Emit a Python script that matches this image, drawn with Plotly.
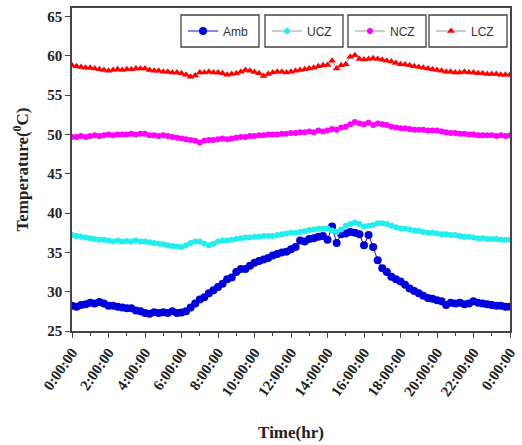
import plotly.graph_objects as go

# time in hours, 15-min resolution (0 .. 24)
hours = [i / 4 for i in range(97)]

amb = [
    28.2, 28.1, 28.3, 28.4,   # 0h
    28.6, 28.5, 28.7, 28.5,   # 1h
    28.2, 28.2, 28.1, 28.0,   # 2h
    27.9, 27.9, 27.6, 27.5,   # 3h
    27.3, 27.2, 27.4, 27.3,   # 4h
    27.4, 27.3, 27.5, 27.3,   # 5h
    27.35, 27.5, 28.0, 28.5,  # 6h
    29.0, 29.3, 29.8, 30.2,   # 7h
    30.6, 31.0, 31.6, 31.8,   # 8h
    32.5, 32.9, 32.9, 33.3,   # 9h
    33.7, 33.9, 34.1, 34.3,   # 10h
    34.6, 34.8, 35.0, 35.1,   # 11h
    35.4, 35.7, 36.5, 36.4,   # 12h
    36.7, 36.8, 37.0, 37.1,   # 13h
    36.6, 38.3, 36.2, 37.3,   # 14h
    37.4, 37.6, 37.5, 37.3,   # 15h
    35.9, 37.2, 35.7, 34.0,   # 16h
    33.0, 32.5, 31.9, 31.6,   # 17h
    31.3, 30.9, 30.4, 30.1,   # 18h
    29.8, 29.5, 29.2, 29.1,   # 19h
    28.9, 28.8, 28.3, 28.6,   # 20h
    28.5, 28.6, 28.4, 28.5,   # 21h
    28.8, 28.6, 28.5, 28.4,   # 22h
    28.3, 28.2, 28.2, 28.1,   # 23h
    28.1,                     # 24h
]

ucz = [
    37.2, 37.1, 37.0, 36.9,
    36.8, 36.7, 36.6, 36.6,
    36.5, 36.4, 36.5, 36.4,
    36.45, 36.4, 36.5, 36.4,
    36.4, 36.3, 36.2, 36.1,
    36.05, 35.9, 35.8, 35.75,
    35.7, 35.9, 36.2, 36.4,
    36.4, 36.1, 35.9, 36.1,
    36.4, 36.5, 36.5, 36.6,
    36.7, 36.8, 36.9, 36.9,
    37.0, 37.0, 37.1, 37.1,
    37.1, 37.2, 37.3, 37.4,
    37.5, 37.5, 37.6, 37.7,
    37.85, 37.9, 38.0, 38.0,
    38.05, 37.8, 37.6, 37.9,
    38.4, 38.6, 38.8, 38.6,
    38.3, 38.4, 38.5, 38.7,
    38.7, 38.6, 38.4, 38.2,
    38.05, 38.0, 37.9, 37.8,
    37.75, 37.6, 37.5, 37.5,
    37.4, 37.3, 37.3, 37.2,
    37.2, 37.1, 37.0, 37.0,
    36.9, 36.8, 36.8, 36.7,
    36.7, 36.7, 36.6, 36.6,
    36.6,
]

ncz = [
    49.7, 49.7, 49.8, 49.7,
    49.8, 49.9, 49.8, 49.9,
    50.0, 49.9, 50.0, 50.0,
    50.0, 50.1, 50.0, 50.1,
    50.1, 49.9, 49.9, 49.8,
    49.9, 49.8, 49.7, 49.6,
    49.5, 49.4, 49.3, 49.2,
    49.0, 49.2, 49.3, 49.3,
    49.4, 49.5, 49.4, 49.5,
    49.6, 49.7, 49.7, 49.8,
    49.8, 49.9, 49.9, 50.0,
    50.0, 50.0, 50.1, 50.1,
    50.2, 50.2, 50.3, 50.3,
    50.4, 50.3, 50.5, 50.4,
    50.5, 50.7, 50.6, 50.9,
    51.0, 51.3, 51.6, 51.4,
    51.3, 51.5, 51.2, 51.4,
    51.3, 51.2, 51.0, 50.9,
    50.8, 50.8, 50.7, 50.6,
    50.6, 50.6, 50.5, 50.5,
    50.5, 50.4, 50.3, 50.2,
    50.2, 50.1, 50.1, 50.0,
    50.0, 49.9, 49.9, 49.9,
    49.9, 49.8, 49.9, 49.8,
    49.9,
]

lcz = [
    58.8, 58.7, 58.6, 58.5,
    58.5, 58.4, 58.3, 58.2,
    58.1, 58.2, 58.3, 58.2,
    58.3, 58.3, 58.4, 58.4,
    58.4, 58.2, 58.1, 58.1,
    58.0, 58.0, 57.9, 57.9,
    57.8, 57.6, 57.35, 57.5,
    57.9, 57.9, 58.0, 57.9,
    57.9, 57.8, 57.6, 57.7,
    57.8, 58.0, 58.2, 58.1,
    57.95, 57.8, 57.45, 57.7,
    57.9, 58.0, 58.0, 57.9,
    58.0, 58.1, 58.2, 58.3,
    58.4, 58.5, 58.7, 58.8,
    58.85, 59.4, 58.4, 58.8,
    58.95, 59.9, 60.1, 59.6,
    59.55, 59.6, 59.7, 59.6,
    59.5, 59.4, 59.3, 59.1,
    58.95, 58.9, 58.8, 58.7,
    58.6, 58.5, 58.4, 58.3,
    58.2, 58.1, 58.0, 58.0,
    57.9, 57.9, 58.0, 57.9,
    57.9, 57.8, 57.8, 57.7,
    57.7, 57.7, 57.6, 57.6,
    57.6,
]

tick_hours = list(range(0, 25, 2))
tick_labels = ["0:00:00", "2:00:00", "4:00:00", "6:00:00", "8:00:00", "10:00:00",
               "12:00:00", "14:00:00", "16:00:00", "18:00:00", "20:00:00",
               "22:00:00", "0:00:00"]
y_ticks = [25, 30, 35, 40, 45, 50, 55, 60, 65]

fig = go.Figure()
fig.add_trace(go.Scatter(x=hours, y=amb, name="Amb", mode="lines+markers",
                         line=dict(color="#1010e0", width=1),
                         marker=dict(color="#0000dd", size=8, symbol="circle"),
                         legend="legend"))
fig.add_trace(go.Scatter(x=hours, y=ucz, name="UCZ", mode="lines+markers",
                         line=dict(color="#555555", width=0.6),
                         marker=dict(color="#22eeee", size=6, symbol="circle"),
                         legend="legend2"))
fig.add_trace(go.Scatter(x=hours, y=ncz, name="NCZ", mode="lines+markers",
                         line=dict(color="#555555", width=0.6),
                         marker=dict(color="#ff00ff", size=6, symbol="circle"),
                         legend="legend3"))
fig.add_trace(go.Scatter(x=hours, y=lcz, name="LCZ", mode="lines+markers",
                         line=dict(color="#555555", width=0.6),
                         marker=dict(color="#ff0000", size=7, symbol="triangle-up"),
                         legend="legend4"))

# plot area in pixels
W, H = 522, 445
L, R, T, B = 72, 510, 8, 331
pw, ph = R - L, B - T

def px_x(x):
    return (x - L) / pw

def px_y(y):
    return (B - y) / ph

box_lefts = [181, 265, 348, 429]
box_w, box_top, box_bot = 78, 15, 47
shapes = []
for bl in box_lefts:
    shapes.append(dict(type="rect", xref="paper", yref="paper",
                       x0=px_x(bl), x1=px_x(bl + box_w),
                       y0=px_y(box_bot), y1=px_y(box_top),
                       line=dict(color="#444444", width=1.3),
                       fillcolor="white", layer="above"))

leg_font = dict(family="Liberation Sans, Arial", size=12, color="#333333")
def leg(bl):
    return dict(x=px_x(bl + 2), y=px_y(box_top + 16), xanchor="left", yanchor="middle",
                bgcolor="rgba(0,0,0,0)", borderwidth=0, font=leg_font,
                itemwidth=30, tracegroupgap=0)

serif = "Liberation Serif, Times New Roman, serif"
fig.update_layout(
    width=W, height=H,
    margin=dict(l=L, r=W - R, t=T, b=H - B, autoexpand=False),
    paper_bgcolor="white", plot_bgcolor="white",
    shapes=shapes,
    legend=leg(box_lefts[0]),
    legend2=leg(box_lefts[1]),
    legend3=leg(box_lefts[2]),
    legend4=leg(box_lefts[3]),
    showlegend=True,
)
fig.update_xaxes(
    range=[0, 24], tickmode="array", tickvals=tick_hours,
    ticktext=["<b>%s</b>" % t for t in tick_labels],
    tickangle=-55, ticks="outside", ticklen=5, tickwidth=1.3, tickcolor="#444",
    minor=dict(tickvals=list(range(1, 24, 2)), ticks="outside", ticklen=3, tickcolor="#444"),
    showline=True, linecolor="#444", linewidth=1.5, mirror=True,
    showgrid=False, zeroline=False, ticklabeloverflow="allow", automargin=False,
    tickfont=dict(family=serif, size=15, color="#222"),
    title=dict(text="<b>Time(hr)</b>", font=dict(family=serif, size=17, color="#222"), standoff=28),
)
fig.update_yaxes(
    range=[25, 66.1], tickmode="array", tickvals=y_ticks,
    ticktext=["<b>%d</b>" % v for v in y_ticks],
    ticks="outside", ticklen=5, tickwidth=1.3, tickcolor="#444",
    showline=True, linecolor="#444", linewidth=1.5, mirror=True,
    showgrid=False, zeroline=False, automargin=False,
    tickfont=dict(family=serif, size=15, color="#222"),
    title=dict(text="<b>Temperature(<sup>0</sup>C)</b>", font=dict(family=serif, size=17, color="#222"), standoff=14),
)

fig.write_html("out.html")
